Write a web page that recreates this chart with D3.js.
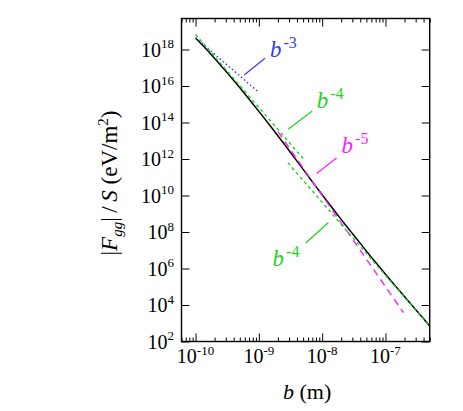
<!DOCTYPE html>
<html><head><meta charset="utf-8">
<script src="https://cdn.jsdelivr.net/npm/d3@7/dist/d3.min.js"></script>
<style>
html,body{margin:0;padding:0;background:#fff;}
svg{display:block;}
text{font-family:"Liberation Serif","Times New Roman","DejaVu Serif",serif;fill:#000;}
</style></head>
<body>
<script>
// ---- data ----
// full curve |F_gg|/S versus b : log10 values
const curveLogB = [-10,-9.9,-9.8,-9.7,-9.6,-9.5,-9.4,-9.3,-9.2,-9.1,-9.0,-8.9,-8.8,-8.7,-8.6,-8.5,-8.4,-8.3,-8.2,-8.1,-8.0,-7.9,-7.8,-7.7,-7.6,-7.5,-7.4,-7.3,-7.2,-7.1,-7.0,-6.9,-6.8,-6.7,-6.6,-6.5,-6.4,-6.301];
const curveLogF = [18.63,18.27,17.90,17.52,17.13,16.73,16.32,15.90,15.475,15.045,14.61,14.17,13.725,13.275,12.82,12.36,11.895,11.43,10.965,10.50,10.04,9.585,9.135,8.69,8.25,7.82,7.39,6.95,6.525,6.105,5.69,5.28,4.87,4.47,4.06,3.66,3.26,2.84];
// asymptotic power-law guide lines
const refExponent = ["-3","-4","-5","-4"];
const refStartB = [1e-10, 1e-10, 2e-9, 2.88e-9];
const refEndB   = [1e-9, 5e-9, 1.93e-7, 5e-7];
const refStartF = [4.47e18, 6.61e18, 3.16e13, 6.14e11];
const refEndF   = [4.47e15, 1.06e12, 3.80e3, 676];
// axis ticks
const xMajor = [1e-10,1e-9,1e-8,1e-7];
const xMajorExp = ["-10","-9","-8","-7"];
const yMajor = [1e2,1e4,1e6,1e8,1e10,1e12,1e14,1e16,1e18];
const yMajorExp = ["2","4","6","8","10","12","14","16","18"];
const xDomain = [6e-11, 5e-7];
const yDomain = [1e2, 5e19];

// ---- layout / style ----
const W = 463, H = 411;
const L = 181.5, R = 429.7, T = 18.5, B = 341.5;
const refColor = ["#3c3cf0","#1ed21e","#ff1eff","#1ed21e"];
const refDash  = ["1.6,2.4","3.2,3","7,5","3.2,3"];
// annotation anchors in data coordinates: [b, F] of label, pointer start, pointer end
const annot = [
  {lb:1.50e-9, lf:3.88e17, p1:[5.87e-10,4.01e16], p2:[1.25e-9,3.30e17]},
  {lb:8.18e-9, lf:6.0e14,  p1:[2.91e-9,4.24e13],  p2:[6.98e-9,4.27e14]},
  {lb:2.03e-8, lf:2.05e12, p1:[8.18e-9,1.60e11],  p2:[1.69e-8,1.14e12]},
  {lb:1.65e-9, lf:1.37e6,  p1:[5.55e-9,2.59e7],   p2:[1.25e-8,3.24e8]}
];

const svg = d3.select("body").append("svg").attr("width",W).attr("height",H);
const x = d3.scaleLog().domain(xDomain).range([L,R]);
const y = d3.scaleLog().domain(yDomain).range([B,T]);

// minor x ticks
const xMinor = [];
for (let e=-11;e<=-7;e++) for (let m=2;m<=9;m++){ const v=m*Math.pow(10,e); if(v>=xDomain[0]&&v<=xDomain[1]) xMinor.push(v); }

function styleAxis(g){ g.select(".domain").remove(); g.selectAll(".tick line").attr("stroke","#000").attr("stroke-width",1); g.selectAll(".tick text").remove(); }

svg.append("g").attr("transform",`translate(0,${B})`).call(d3.axisBottom(x).tickValues(xMajor).tickSizeInner(-8).tickSizeOuter(0).tickFormat(()=>"")).call(styleAxis);
svg.append("g").attr("transform",`translate(0,${B})`).call(d3.axisBottom(x).tickValues(xMinor).tickSizeInner(-4).tickSizeOuter(0).tickFormat(()=>"")).call(styleAxis);
svg.append("g").attr("transform",`translate(0,${T})`).call(d3.axisTop(x).tickValues(xMajor).tickSizeInner(-8).tickSizeOuter(0).tickFormat(()=>"")).call(styleAxis);
svg.append("g").attr("transform",`translate(0,${T})`).call(d3.axisTop(x).tickValues(xMinor).tickSizeInner(-4).tickSizeOuter(0).tickFormat(()=>"")).call(styleAxis);
svg.append("g").attr("transform",`translate(${L},0)`).call(d3.axisLeft(y).tickValues(yMajor).tickSizeInner(-8).tickSizeOuter(0).tickFormat(()=>"")).call(styleAxis);
svg.append("g").attr("transform",`translate(${R},0)`).call(d3.axisRight(y).tickValues(yMajor).tickSizeInner(-8).tickSizeOuter(0).tickFormat(()=>"")).call(styleAxis);

// frame
svg.append("rect").attr("x",L).attr("y",T).attr("width",R-L).attr("height",B-T)
  .attr("fill","none").attr("stroke","#000").attr("stroke-width",1.4);

// tick labels
const xl = svg.append("g").selectAll("text").data(xMajor).join("text")
  .attr("x",d=>x(d)).attr("y",B+21.5).attr("text-anchor","middle").style("font-size","20px");
xl.append("tspan").text("10");
xl.append("tspan").attr("dy",-8).style("font-size","13px").text((d,i)=>xMajorExp[i]);

const yl = svg.append("g").selectAll("text").data(yMajor).join("text")
  .attr("x",L-7.5).attr("y",d=>y(d)+7.4).attr("text-anchor","end").style("font-size","20px");
yl.append("tspan").text("10");
yl.append("tspan").attr("dy",-8.5).style("font-size","13px").text((d,i)=>yMajorExp[i]);

// axis titles
const xt = svg.append("text").attr("x",(L+R)/2+1.5).attr("y",399).attr("text-anchor","middle").style("font-size","22px");
xt.append("tspan").style("font-style","italic").text("b");
xt.append("tspan").text(" (m)");

const yt = svg.append("text").attr("transform",`translate(117,${(T+B)/2+3}) rotate(-90)`).attr("text-anchor","middle").style("font-size","23px");
yt.append("tspan").text("|");
yt.append("tspan").style("font-style","italic").text("F");
yt.append("tspan").style("font-style","italic").style("font-size","15px").attr("dy",5).text("gg");
yt.append("tspan").attr("dy",-5).text("|\u2009/\u2009");
yt.append("tspan").style("font-style","italic").text("S");
yt.append("tspan").text(" (eV/m");
yt.append("tspan").style("font-size","15px").attr("dy",-9).text("2");
yt.append("tspan").attr("dy",9).text(")");

const plot = svg.append("g");
// guide lines
const lineG = d3.line().x(d=>x(d[0])).y(d=>y(d[1]));
refExponent.forEach((e,i)=>{
  plot.append("path").datum([[refStartB[i],refStartF[i]],[refEndB[i],refEndF[i]]])
    .attr("d",lineG).attr("fill","none").attr("stroke",refColor[i]).attr("stroke-width",1.4)
    .attr("stroke-dasharray",refDash[i]);
});
// main curve
const curvePts = curveLogB.map((lb,i)=>[Math.pow(10,lb),Math.pow(10,curveLogF[i])]);
plot.insert("path",":first-child").datum(curvePts)
  .attr("d",d3.line().x(d=>x(d[0])).y(d=>y(d[1])).curve(d3.curveMonotoneX))
  .attr("fill","none").attr("stroke","#000").attr("stroke-width",1.5);

// annotations
annot.forEach((a,i)=>{
  plot.append("line").attr("x1",x(a.p1[0])).attr("y1",y(a.p1[1])).attr("x2",x(a.p2[0])).attr("y2",y(a.p2[1]))
    .attr("stroke",refColor[i]).attr("stroke-width",1.2);
  const t = plot.append("text").attr("x",x(a.lb)).attr("y",y(a.lf)).style("font-size","23px").style("fill",refColor[i]);
  t.append("tspan").style("font-style","italic").text("b");
  t.append("tspan").attr("dx",2).attr("dy",-9.5).style("font-size","16px").text(refExponent[i]);
});
</script>
</body></html>
